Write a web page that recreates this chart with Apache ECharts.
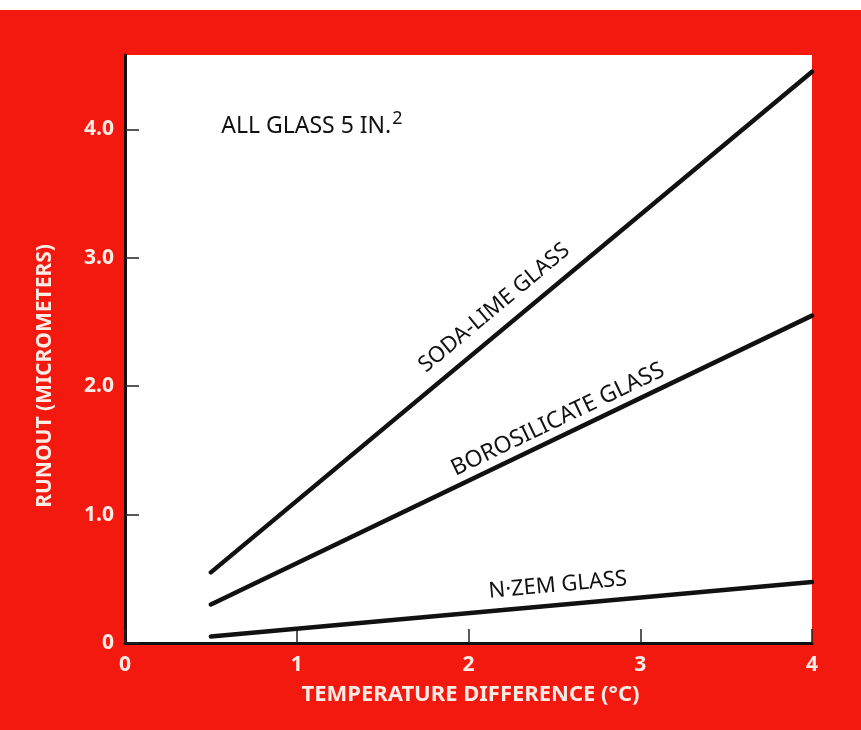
<!DOCTYPE html>
<html><head><meta charset="utf-8">
<script src="https://cdn.jsdelivr.net/npm/echarts@6/dist/echarts.min.js"></script>
<style>
html,body{margin:0;padding:0;background:#fff;overflow:hidden}
#c{width:861px;height:730px;
  background:linear-gradient(to bottom,#ffffff 0px,#ffffff 10px,#f4190f 10px,#f4190f 100%)}
</style>
</head><body><div id="c"></div>
<script>
// Data
const xTicks = [0, 1, 2, 3, 4];
const xTickLabels = ['0', '1', '2', '3', '4'];
const yTicks = [0, 1, 2, 3, 4];
const yTickLabels = ['0', '1.0', '2.0', '3.0', '4.0'];
const tempDiff = [0.5, 4];
const sodaLime = [0.55, 4.45];
const borosilicate = [0.30, 2.55];
const nZem = [0.05, 0.475];
const seriesNames = ['SODA-LIME GLASS', 'BOROSILICATE GLASS', 'N·ZEM GLASS'];
const labelAt = [[2.15, 2.61], [2.52, 1.74], [2.52, 0.45]];
const labelSize = [22, 23, 22];
const noteText = 'ALL GLASS 5 IN.';
const noteAt = [0.56, 4.02];
const xName = 'TEMPERATURE DIFFERENCE (°C)';
const yName = 'RUNOUT (MICROMETERS)';

const FONT = '"Noto Sans","Open Sans",sans-serif';
const LABEL_WHITE = '#fdece6';

const chart = echarts.init(document.getElementById('c'), null, {renderer: 'canvas'});
const allSeries = [sodaLime, borosilicate, nZem];

function pts(vals) { return tempDiff.map((x, i) => [x, vals[i]]); }

chart.setOption({
  backgroundColor: 'transparent',
  animation: false,
  grid: {left: 125, right: 49, top: 55, bottom: 87, show: true, backgroundColor: '#ffffff', borderWidth: 0},
  xAxis: {
    type: 'value', min: 0, max: 4, interval: 1,
    axisLine: {show: true, lineStyle: {color: '#111', width: 3}},
    axisTick: {show: true, inside: true, length: 14, lineStyle: {color: '#222', width: 1.5}, customValues: xTicks},
    axisLabel: {color: LABEL_WHITE, fontFamily: FONT, fontWeight: 'bold', fontSize: 21, margin: 12,
      customValues: xTicks, formatter: v => xTickLabels[xTicks.indexOf(v)]},
    splitLine: {show: false}
  },
  yAxis: {
    type: 'value', min: 0, max: 4.58,
    axisLine: {show: true, lineStyle: {color: '#111', width: 3}},
    axisTick: {show: true, inside: true, length: 14, lineStyle: {color: '#222', width: 1.5}, customValues: yTicks},
    axisLabel: {color: LABEL_WHITE, fontFamily: FONT, fontWeight: 'bold', fontSize: 21, margin: 11,
      customValues: yTicks, formatter: v => yTickLabels[yTicks.indexOf(v)]},
    splitLine: {show: false}
  },
  series: allSeries.map((vals, i) => ({
    name: seriesNames[i], type: 'line', data: pts(vals), symbol: 'none',
    lineStyle: {color: '#111', width: 4.5, cap: 'round'}
  }))
});

// annotations positioned through the axes
const graphics = [];
allSeries.forEach((vals, i) => {
  const a = chart.convertToPixel({gridIndex: 0}, [tempDiff[0], vals[0]]);
  const b = chart.convertToPixel({gridIndex: 0}, [tempDiff[1], vals[1]]);
  const ang = Math.atan2(a[1] - b[1], b[0] - a[0]);
  const p = chart.convertToPixel({gridIndex: 0}, labelAt[i]);
  graphics.push({
    type: 'text', x: p[0], y: p[1], rotation: ang,
    style: {text: seriesNames[i], fill: '#111', font: labelSize[i] + 'px ' + FONT, align: 'center', verticalAlign: 'middle'}
  });
});
const np = chart.convertToPixel({gridIndex: 0}, noteAt);
graphics.push({
  type: 'text', x: np[0], y: np[1],
  style: {
    text: '{a|' + noteText + '}{s|2}',
    verticalAlign: 'middle', align: 'left',
    rich: {
      a: {fontFamily: FONT, fontSize: 23, color: '#111', fill: '#111'},
      s: {fontFamily: FONT, fontSize: 18, color: '#111', fill: '#111', padding: [0, 0, 16, 1]}
    }
  }
});
// axis titles placed at axis coordinates
const xMid = chart.convertToPixel({gridIndex: 0}, [2, 0]);
graphics.push({
  type: 'text', x: xMid[0] + 2, y: xMid[1] + 52,
  style: {text: xName, fill: LABEL_WHITE, font: 'bold 22px ' + FONT, align: 'center', verticalAlign: 'middle'}
});
const yMid = chart.convertToPixel({gridIndex: 0}, [0, 2.08]);
graphics.push({
  type: 'text', x: 45, y: yMid[1], rotation: Math.PI / 2,
  style: {text: yName, fill: LABEL_WHITE, font: 'bold 21px ' + FONT, align: 'center', verticalAlign: 'middle'}
});
chart.setOption({graphic: graphics});
</script>
</body></html>
